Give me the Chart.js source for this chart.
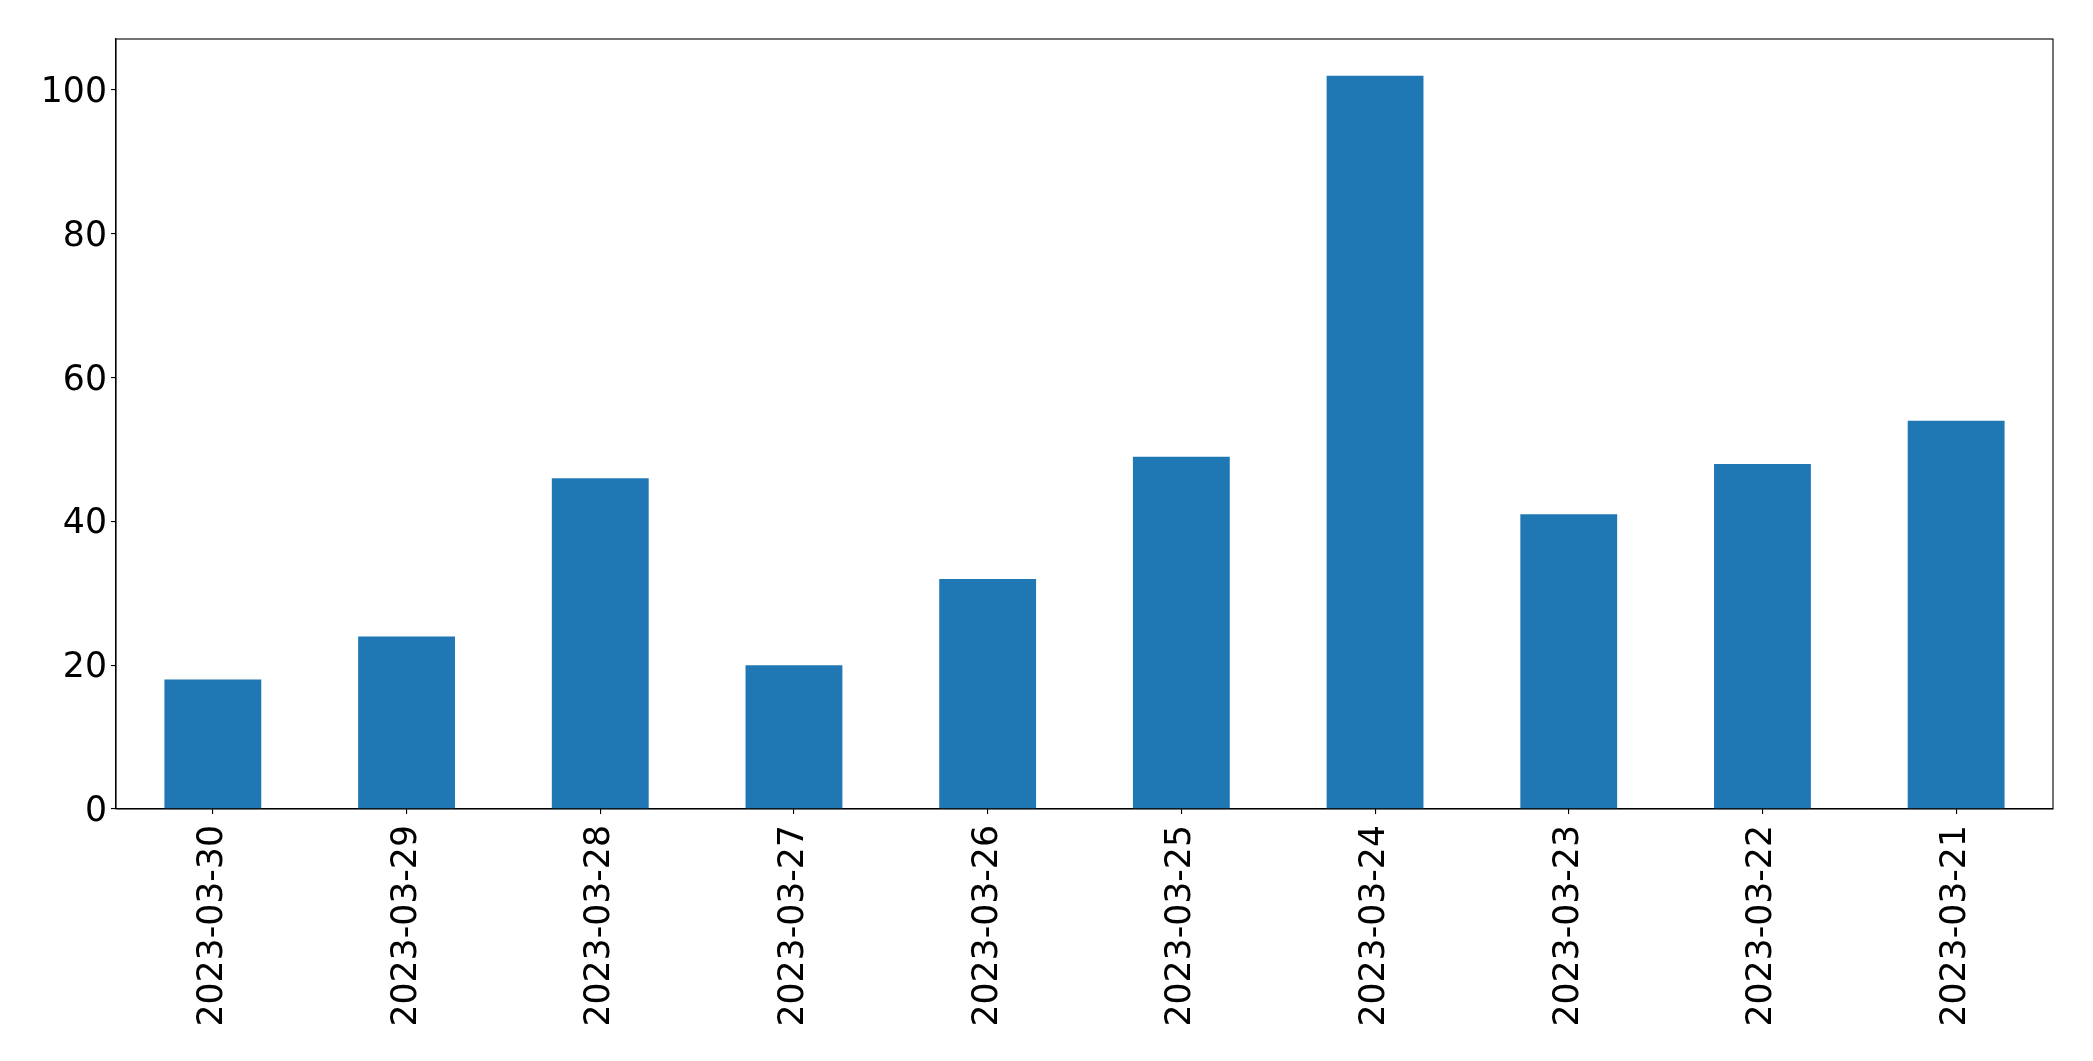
<!DOCTYPE html>
<html>
<head>
<meta charset="utf-8">
<script src="https://cdn.jsdelivr.net/npm/chart.js@4.4.0/dist/chart.umd.min.js"></script>
<style>
  html, body { margin: 0; padding: 0; background: #ffffff; }
  #wrap { width: 2093px; height: 1061px; position: relative; }
</style>
</head>
<body>
<div id="wrap"><canvas id="c" width="2093" height="1061"></canvas></div>
<script>
const categories = ["2023-03-30", "2023-03-29", "2023-03-28", "2023-03-27", "2023-03-26",
                    "2023-03-25", "2023-03-24", "2023-03-23", "2023-03-22", "2023-03-21"];
const counts = [18, 24, 46, 20, 32, 49, 102, 41, 48, 54];
const yTicks = [0, 20, 40, 60, 80, 100];

const frame = {
  id: 'frame',
  afterDraw(chart) {
    const a = chart.chartArea, ctx = chart.ctx;
    ctx.save();
    ctx.strokeStyle = '#000000';
    ctx.lineWidth = 1.1;
    ctx.strokeRect(a.left, a.top, a.right - a.left, a.bottom - a.top);
    ctx.restore();
  }
};

new Chart(document.getElementById('c'), {
  type: 'bar',
  data: {
    labels: categories,
    datasets: [{
      data: counts,
      backgroundColor: '#1f77b4',
      borderWidth: 0,
      barPercentage: 0.5,
      categoryPercentage: 1.0
    }]
  },
  options: {
    responsive: false,
    animation: false,
    layout: { padding: { top: 39, right: 40, left: 0, bottom: 0 } },
    plugins: { legend: { display: false }, tooltip: { enabled: false } },
    scales: {
      x: {
        grid: { display: true, offset: false, drawOnChartArea: false, drawTicks: true, tickLength: 5, color: '#000000', lineWidth: 1.1 },
        border: { display: true, color: '#000000', width: 1.1 },
        ticks: {
          color: '#000000',
          font: { family: 'DejaVu Sans', size: 34.7 },
          minRotation: 90, maxRotation: 90,
          padding: 11,
          autoSkip: false
        },
        afterFit(scale) { scale.height = 252; }
      },
      y: {
        min: 0,
        max: 107.1,
        afterBuildTicks(scale) { scale.ticks = yTicks.map(v => ({ value: v })); },
        grid: { display: true, drawOnChartArea: false, drawTicks: true, tickLength: 5, color: '#000000', lineWidth: 1.1 },
        border: { display: true, color: '#000000', width: 1.1 },
        ticks: {
          color: '#000000',
          font: { family: 'DejaVu Sans', size: 34.7 },
          padding: 4,
          labelOffset: 3
        },
        afterFit(scale) { scale.width = 116; }
      }
    }
  },
  plugins: [frame]
});
</script>
</body>
</html>
